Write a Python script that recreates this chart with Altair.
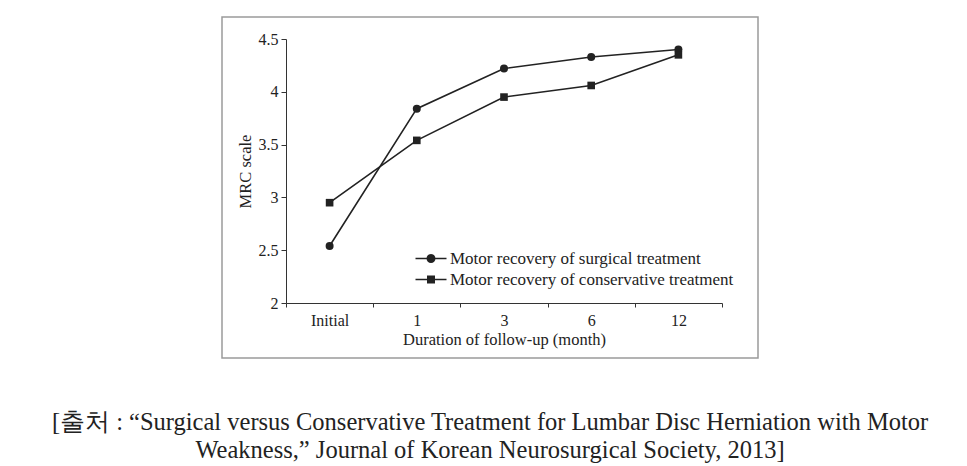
import altair as alt
import pandas as pd

# ---- data ----
months = ["Initial", "1", "3", "6", "12"]
surgical = [2.54, 3.84, 4.22, 4.33, 4.40]
conservative = [2.95, 3.54, 3.95, 4.06, 4.35]
series_names = [
    "Motor recovery of surgical treatment",
    "Motor recovery of conservative treatment",
]
y_ticks = [2, 2.5, 3, 3.5, 4, 4.5]
caption = [
    "[출처 :  \u201cSurgical versus Conservative Treatment for Lumbar Disc Herniation with Motor",
    "Weakness,\u201d  Journal of Korean Neurosurgical Society, 2013]",
]

rows = []
for name, vals in zip(series_names, [surgical, conservative]):
    for m, v in zip(months, vals):
        rows.append({"month": m, "score": v, "series": name})
df = pd.DataFrame(rows)

SERIF = "Liberation Serif"
INK = "#222222"

# legend symbols: a short line with the marker in the middle
# (symbol size 100 -> 5 px per path unit)
circle_path = ("M-3.1,-0.14L-0.85,-0.14L-0.85,0.14L-3.1,0.14Z "
               "M0.85,-0.14L3.1,-0.14L3.1,0.14L0.85,0.14Z "
               "M0.9,0A0.9,0.9 0 1,1 -0.9,0A0.9,0.9 0 1,1 0.9,0Z")
square_path = ("M-3.1,-0.14L-0.8,-0.14L-0.8,0.14L-3.1,0.14Z "
               "M0.8,-0.14L3.1,-0.14L3.1,0.14L0.8,0.14Z "
               "M-0.8,-0.8L0.8,-0.8L0.8,0.8L-0.8,0.8Z")

x_enc = alt.X(
    "month:N",
    sort=months,
    scale=alt.Scale(type="band", domain=months, range=[64, 500],
                    paddingInner=0, paddingOuter=0),
    axis=alt.Axis(title="Duration of follow-up (month)", labelAngle=0,
                  tickBand="extent", offset=-55, tickSize=4,
                  labelPadding=5, titlePadding=3),
)
y_enc = alt.Y(
    "score:Q",
    scale=alt.Scale(domain=[2, 4.5], range=[286, 22], nice=False, zero=False),
    axis=alt.Axis(title="MRC scale", values=y_ticks, format=".1~f",
                  offset=-64, tickSize=5, labelPadding=3, titlePadding=5),
)

base = alt.Chart(df)

lines = base.mark_line(color=INK, strokeWidth=1.6).encode(
    x=x_enc, y=y_enc, detail="series:N"
)

points = base.mark_point(filled=True, color=INK, opacity=1).encode(
    x=x_enc,
    y=y_enc,
    shape=alt.Shape("series:N",
                    scale=alt.Scale(domain=series_names, range=["circle", "square"]),
                    legend=None),
    size=alt.Size("series:N",
                  scale=alt.Scale(domain=series_names, range=[64, 58]),
                  legend=None),
)

legend_layer = base.transform_filter("false").mark_point(
    filled=True, color=INK, opacity=1, size=100
).encode(
    shape=alt.Shape(
        "series:N",
        scale=alt.Scale(domain=series_names, range=[circle_path, square_path]),
        legend=alt.Legend(
            title=None, orient="none", legendX=200.5, legendY=233,
            symbolSize=100, symbolFillColor=INK, symbolStrokeWidth=0,
            symbolOpacity=1, labelFont=SERIF, labelFontSize=17,
            labelColor=INK, labelOffset=10.5, rowPadding=3, labelLimit=400,
        ),
    )
)

chart = (
    alt.layer(lines, points, legend_layer)
    .resolve_scale(shape="independent", size="independent")
    .properties(
        width=536,
        height=341,
        autosize=alt.AutoSizeParams(type="none"),
        padding={"left": 214, "top": 9, "right": 200, "bottom": 120},
        title=alt.TitleParams(
            text=caption, orient="bottom", anchor="middle", font=SERIF,
            fontSize=24.5, fontWeight="normal", color=INK, lineHeight=28,
            offset=53,
        ),
    )
    .configure_view(stroke="#9a9a9a", strokeWidth=1.5)
    .configure_axis(
        grid=False, domainColor="#333333", tickColor="#333333",
        labelColor=INK, titleColor=INK, labelFont=SERIF, titleFont=SERIF,
        labelFontSize=16, titleFontSize=16.5, titleFontWeight="normal",
        domainWidth=1, tickWidth=1,
    )
)

chart.save("out.html", embed_options={"renderer": "svg", "actions": False})
